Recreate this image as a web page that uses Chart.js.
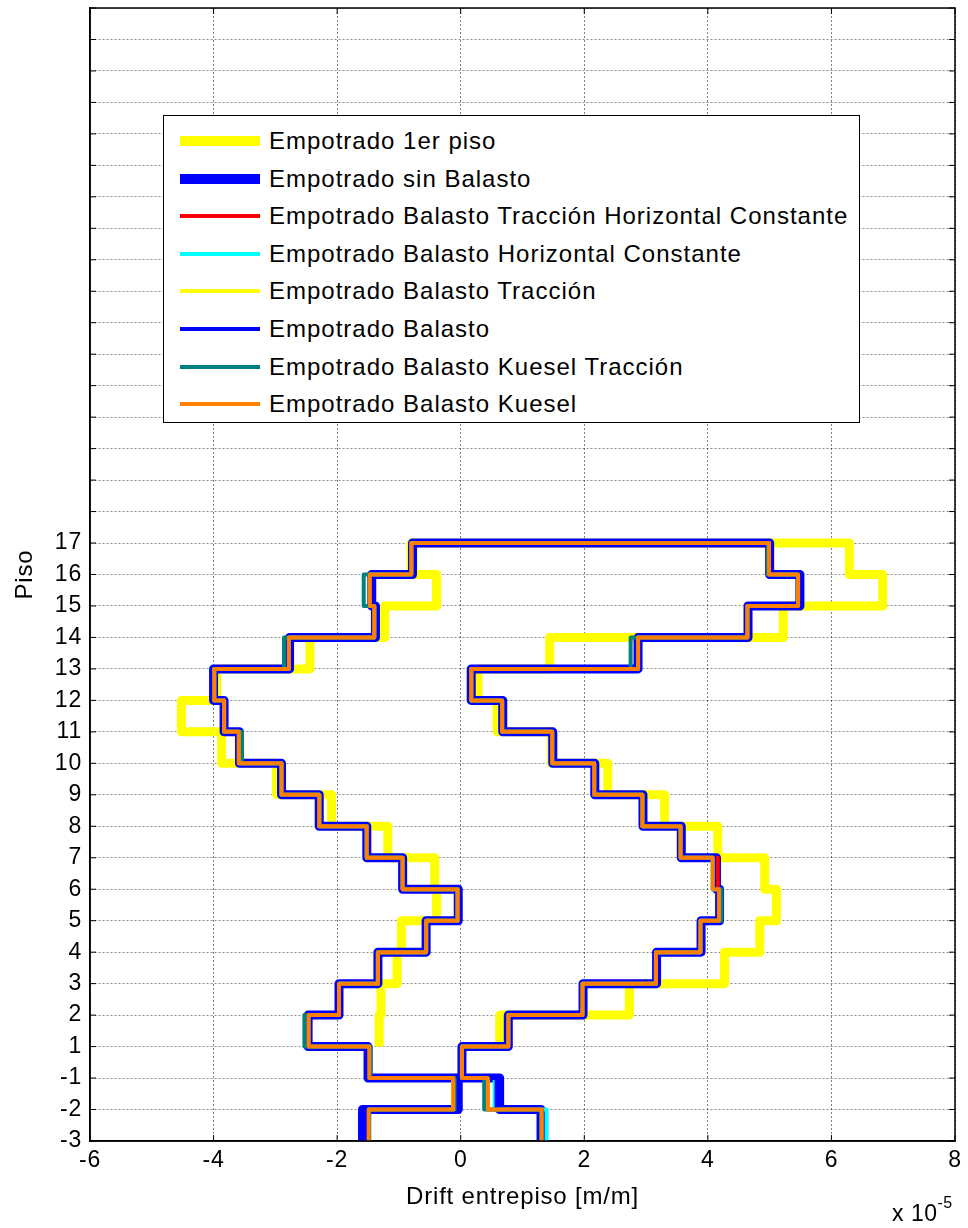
<!DOCTYPE html>
<html>
<head>
<meta charset="utf-8">
<script src="https://cdn.jsdelivr.net/npm/chart.js@4"></script>
<style>
  body { margin: 0; background: #fff; }
  #wrap { position: relative; width: 968px; height: 1228px; font-family: "Liberation Sans", Arial, sans-serif; }
  #legend { position: absolute; left: 163px; top: 115px; width: 695px; height: 306px; border: 1px solid #000; background: #fff; }
  .row { position: absolute; left: 0; height: 30px; display: flex; align-items: center; }
  .row .sample { position: absolute; left: 16px; width: 80px; }
  .row span { position: absolute; left: 105px; font-size: 24px; letter-spacing: 1px; white-space: nowrap; color: #000; line-height: 30px; top: 0; }
  #expo { position: absolute; left: 892px; top: 1198px; font-size: 23px; letter-spacing: 0.5px; color: #000; }
  #expo sup { font-size: 16px; position: relative; top: -4px; }
</style>
</head>
<body>
<div id="wrap">
  <canvas id="driftChart" width="968" height="1228"></canvas>
  <div id="legend"></div>
  <div id="expo">x 10<sup>-5</sup></div>
</div>
<script>
// === Data (drift values in x10^-5 m/m, one value per story) ===
// story k spans floor level k to k+1 on the y index scale
const floorLabels = ["-3", "-2", "-1", "1", "2", "3", "4", "5", "6", "7", "8", "9", "10", "11", "12", "13", "14", "15", "16", "17"];

// Empotrado 1er piso starts at floor 1 (story index 3)
const empotrado1erMin = [-1.32, -1.29, -1.03, -0.96, -0.39, -0.42, -1.18, -2.09, -2.98, -3.87, -4.52, -3.95, -2.44, -1.23, -0.39, -0.80];
const empotrado1erMax = [0.63, 2.73, 4.27, 4.84, 5.11, 4.92, 4.16, 3.30, 2.38, 1.47, 0.59, 0.28, 1.44, 5.22, 6.83, 6.29];

const sinBalastoMin = [-1.59, -0.04, -1.50, -2.47, -1.97, -1.34, -0.56, -0.04, -0.94, -1.52, -2.29, -2.90, -3.58, -3.83, -4.00, -2.77, -1.38, -1.44, -0.78];
const sinBalastoMax = [1.30, 0.63, 0.02, 0.77, 1.98, 3.17, 3.89, 4.19, 4.14, 3.57, 2.95, 2.17, 1.49, 0.68, 0.17, 2.87, 4.65, 5.49, 5.00];

const tracHorizMin = [-1.49, -0.12, -1.48, -2.46, -1.97, -1.34, -0.56, -0.05, -0.94, -1.52, -2.29, -2.90, -3.59, -3.83, -3.99, -2.78, -1.40, -1.47, -0.80];
const tracHorizMax = [1.31, 0.44, 0.02, 0.77, 1.97, 3.16, 3.88, 4.18, 4.16, 3.56, 2.94, 2.16, 1.48, 0.67, 0.17, 2.87, 4.64, 5.46, 4.99];

const horizConstMin = [-1.49, -0.12, -1.48, -2.46, -1.97, -1.34, -0.56, -0.05, -0.94, -1.52, -2.29, -2.90, -3.59, -3.83, -3.99, -2.78, -1.40, -1.47, -0.80];
const horizConstMax = [1.39, 0.55, 0.02, 0.77, 1.97, 3.16, 3.88, 4.18, 4.08, 3.56, 2.94, 2.16, 1.48, 0.67, 0.17, 2.87, 4.64, 5.46, 4.99];

const balastoTracMin = [-1.49, -0.12, -1.48, -2.46, -1.97, -1.34, -0.56, -0.05, -0.94, -1.52, -2.29, -2.90, -3.59, -3.83, -3.99, -2.78, -1.40, -1.47, -0.80];
const balastoTracMax = [1.31, 0.44, 0.02, 0.77, 1.97, 3.16, 3.88, 4.18, 4.08, 3.56, 2.94, 2.16, 1.48, 0.67, 0.17, 2.87, 4.64, 5.46, 4.99];

const balastoMin = [-1.52, -0.08, -1.49, -2.46, -1.97, -1.34, -0.56, -0.05, -0.94, -1.52, -2.29, -2.90, -3.58, -3.83, -3.99, -2.78, -1.40, -1.46, -0.80];
const balastoMax = [1.31, 0.58, 0.02, 0.77, 1.97, 3.16, 3.88, 4.18, 4.10, 3.56, 2.94, 2.16, 1.48, 0.67, 0.17, 2.87, 4.64, 5.47, 4.99];

const kueselTracMin = [-1.48, -0.10, -1.46, -2.53, -1.97, -1.34, -0.56, -0.05, -0.94, -1.52, -2.29, -2.90, -3.54, -3.83, -3.99, -2.86, -1.40, -1.57, -0.80];
const kueselTracMax = [1.30, 0.38, 0.02, 0.77, 1.97, 3.16, 3.88, 4.22, 4.08, 3.56, 2.94, 2.16, 1.48, 0.67, 0.17, 2.75, 4.64, 5.46, 4.97];

const kueselMin = [-1.49, -0.12, -1.48, -2.46, -1.97, -1.34, -0.56, -0.05, -0.94, -1.52, -2.29, -2.90, -3.59, -3.83, -3.99, -2.78, -1.40, -1.47, -0.80];
const kueselMax = [1.31, 0.44, 0.02, 0.77, 1.97, 3.16, 3.88, 4.18, 4.08, 3.56, 2.94, 2.16, 1.48, 0.67, 0.17, 2.87, 4.64, 5.46, 4.99];

const seriesNames = [
  "Empotrado 1er piso",
  "Empotrado sin Balasto",
  "Empotrado Balasto Tracción Horizontal Constante",
  "Empotrado Balasto Horizontal Constante",
  "Empotrado Balasto Tracción",
  "Empotrado Balasto",
  "Empotrado Balasto Kuesel Tracción",
  "Empotrado Balasto Kuesel",
];
const seriesColors = ["#ffff00", "#0000ff", "#ff0000", "#00ffff", "#ffff00", "#0000ff", "#008080", "#ff8000"];
const seriesWidths = [9, 9, 4, 4, 4, 4, 4, 4];
const seriesMin = [empotrado1erMin, sinBalastoMin, tracHorizMin, horizConstMin, balastoTracMin, balastoMin, kueselTracMin, kueselMin];
const seriesMax = [empotrado1erMax, sinBalastoMax, tracHorizMax, horizConstMax, balastoTracMax, balastoMax, kueselTracMax, kueselMax];
const seriesStart = [3, 0, 0, 0, 0, 0, 0, 0];

// build the closed step outline: up the min envelope, across the top, down the max envelope
function stepOutline(mins, maxs, start) {
  const pts = [];
  mins.forEach((v, k) => {
    pts.push({ x: v, y: start + k });
    pts.push({ x: v, y: start + k + 1 });
  });
  for (let k = maxs.length - 1; k >= 0; k--) {
    pts.push({ x: maxs[k], y: start + k + 1 });
    pts.push({ x: maxs[k], y: start + k });
  }
  return pts;
}

const datasets = seriesNames.map((name, i) => ({
  label: name,
  data: stepOutline(seriesMin[i], seriesMax[i], seriesStart[i]),
  borderColor: seriesColors[i],
  backgroundColor: seriesColors[i],
  borderWidth: seriesWidths[i],
  borderJoinStyle: "round",
  borderCapStyle: "butt",
  showLine: true,
  fill: false,
  tension: 0,
  pointRadius: 0,
  order: seriesNames.length - i, // first series drawn first (bottom)
}));

// === Legend (inside the plot, like the original) ===
const legendEl = document.getElementById("legend");
seriesNames.forEach((name, i) => {
  const row = document.createElement("div");
  row.className = "row";
  row.style.top = (10 + i * 37.6) + "px";
  row.style.width = "100%";
  const s = document.createElement("div");
  s.className = "sample";
  s.style.height = (i < 2 ? 10 : 4) + "px";
  s.style.top = (15 - (i < 2 ? 5 : 2)) + "px";
  s.style.background = seriesColors[i];
  const t = document.createElement("span");
  t.textContent = name;
  row.appendChild(s);
  row.appendChild(t);
  legendEl.appendChild(row);
});

// === Box + inward ticks (MATLAB style) ===
const frameTicks = {
  id: "frameTicks",
  beforeDraw(chart) {
    chart.ctx.letterSpacing = "0.8px";
  },
  afterDraw(chart) {
    const { ctx, chartArea: a, scales } = chart;
    ctx.save();
    ctx.letterSpacing = "0px";
    ctx.strokeStyle = "#000";
    ctx.lineWidth = 1.5;
    ctx.setLineDash([]);
    ctx.strokeRect(a.left, a.top, a.right - a.left, a.bottom - a.top);
    ctx.lineWidth = 1;
    scales.x.ticks.forEach((t) => {
      const px = scales.x.getPixelForValue(t.value);
      ctx.beginPath();
      ctx.moveTo(px, a.bottom); ctx.lineTo(px, a.bottom - 6);
      ctx.moveTo(px, a.top); ctx.lineTo(px, a.top + 6);
      ctx.stroke();
    });
    scales.y.ticks.forEach((t) => {
      const py = scales.y.getPixelForValue(t.value);
      ctx.beginPath();
      ctx.moveTo(a.left, py); ctx.lineTo(a.left + 6, py);
      ctx.moveTo(a.right, py); ctx.lineTo(a.right - 6, py);
      ctx.stroke();
    });
    ctx.restore();
  },
};

const fontFamily = "'Liberation Sans', Arial, sans-serif";

new Chart(document.getElementById("driftChart").getContext("2d"), {
  type: "scatter",
  data: { datasets },
  options: {
    responsive: false,
    animation: false,
    devicePixelRatio: 1,
    layout: { padding: { top: 8, right: 13, left: 0, bottom: 0 } },
    plugins: {
      legend: { display: false },
      tooltip: { enabled: false },
    },
    scales: {
      x: {
        type: "linear",
        min: -6,
        max: 8,
        ticks: { stepSize: 2, color: "#000", padding: 6, font: { family: fontFamily, size: 23 } },
        grid: { color: "rgba(0,0,0,0.5)", lineWidth: 1, drawTicks: false },
        border: { display: true, color: "#000", width: 1.5, dash: [2, 2] },
        title: {
          display: true,
          text: "Drift entrepiso [m/m]",
          color: "#000",
          font: { family: fontFamily, size: 24 },
          padding: { top: 16, bottom: 16 },
        },
        afterFit: (scale) => {
          scale.height = 87;
          scale.paddingLeft = 0;
          scale.paddingRight = 0;
        },
      },
      y: {
        type: "linear",
        min: 0,
        max: 36,
        ticks: {
          stepSize: 1,
          autoSkip: false,
          color: "#000",
          padding: 8,
          font: { family: fontFamily, size: 23 },
          callback: (v) => (floorLabels[v] !== undefined ? floorLabels[v] : ""),
        },
        grid: { color: "rgba(0,0,0,0.45)", lineWidth: 1, drawTicks: false },
        border: { display: true, color: "#000", width: 1.5, dash: [2, 2] },
        title: {
          display: true,
          text: "Piso",
          color: "#000",
          font: { family: fontFamily, size: 24 },
          padding: { top: 11, bottom: 11 },
        },
        afterFit: (scale) => {
          scale.width = 90;
          scale.paddingTop = 0;
          scale.paddingBottom = 0;
        },
      },
    },
  },
  plugins: [frameTicks],
});
</script>
</body>
</html>
